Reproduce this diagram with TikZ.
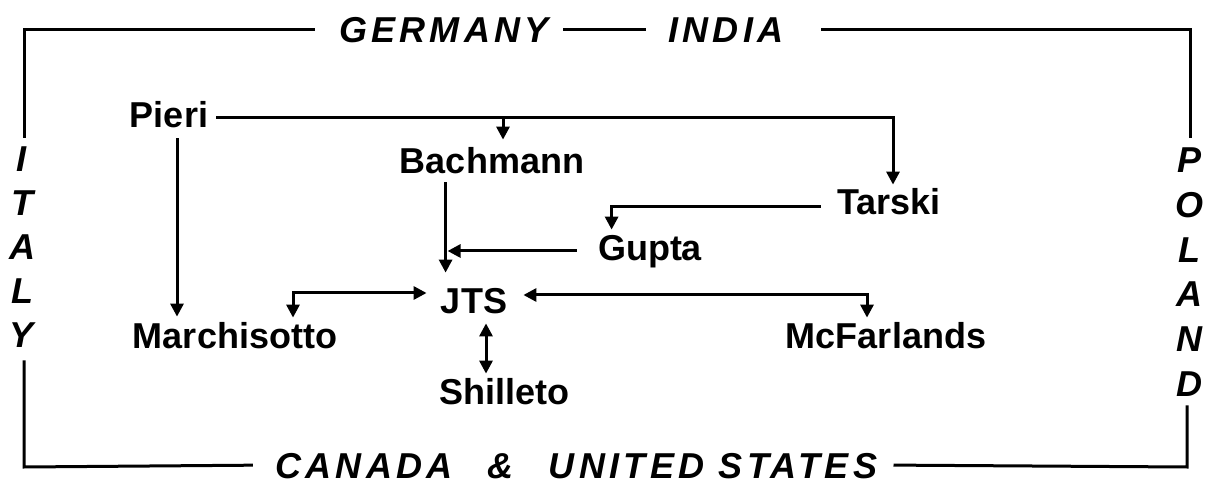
\documentclass[tikz,border=0pt]{standalone}
\usepackage{fontspec}
\setmainfont{Liberation Sans}
\newfontfamily\landfont{Liberation Sans}[LetterSpace=12]
\usetikzlibrary{arrows.meta,calc}
\begin{document}
\begin{tikzpicture}[x=0.5pt,y=-0.5pt,
  >={Triangle[length=6.5pt,width=6.5pt]},
  person/.style={font=\bfseries\fontsize{18}{20}\selectfont, inner sep=0pt, text height=13pt, text depth=0pt},
  land/.style={font=\landfont\bfseries\itshape\fontsize{18}{20}\selectfont, inner sep=0pt, text height=13pt, text depth=0pt},
  wire/.style={line width=1.5pt},
  link/.style={wire, ->},
  both/.style={wire, <->},
]
\useasboundingbox (0,0) rectangle (1205,486);

% people
\node[person] (pieri)  at (169,115) {Pieri};
\node[person] (bach)   at (492,161) {Bachmann};
\node[person] (tarski) at (889,202) {Tarski};
\node[person] (gupta)  at (650,248) {Gupta};
\node[person] (jts)    at (474,301) {JTS};
\node[person] (march)  at (235,336) {Marchisotto};
\node[person] (mcf)    at (886,336) {McFarlands};
\node[person] (shil)   at (504,391) {Shilleto};

% countries around the border
\node[land] (ger) at (444,30) {GERMANY};
\node[land] (ind) at (726,30) {INDIA};
\node[land] (can) at (364,465) {CANADA};
\node[land] (amp) at (500,465) {\&};
\node[land] (usa) at (713,465) {UNITED STATES};
\foreach \ch [count=\i] in {I,T,A,L,Y}
  \node[land] (it\i) at (22,{159+44*(\i-1)}) {\ch};
\foreach \ch [count=\i] in {P,O,L,A,N,D}
  \node[land] (pl\i) at (1189,{160+44.6*(\i-1)}) {\ch};

% border
\coordinate (tl) at (24,30);
\coordinate (tr) at (1190,30);
\coordinate (bl) at (24,467);
\coordinate (br) at (1187,467);
\draw[wire, shorten <=4pt, shorten >=12pt] (tl |- it1.north) -- (tl) -- (ger.west);
\draw[wire, shorten <=7pt, shorten >=11pt] (ger.east) -- (ind.west);
\draw[wire, shorten <=18.5pt, shorten >=4.5pt] (ind.east) -- (tr) -- (tr |- pl1.north);
\draw[wire, shorten <=6pt, shorten >=11pt] (bl |- it5.south) -- (bl) -- (can.west);
\draw[wire, shorten <=8pt, shorten >=4.5pt] (usa.east) -- (br) -- (br |- pl6.south);

% Pieri to Tarski, with a branch to Bachmann
\coordinate (pline) at ($(pieri.east)+(0,3)$);
\coordinate (pt) at ($(tarski.north)+(4,0)$);
\draw[link, shorten <=4pt, shorten >=2pt] (pline) -| (pt);
\coordinate (pb) at ($(bach.north)+(11,0)$);
\draw[link, shorten >=4pt] (pb |- pline) -- (pb);

% Pieri to Marchisotto
\coordinate (pm) at ($(pieri.south)+(8,0)$);
\draw[link, shorten <=5pt, shorten >=3pt] (pm) -- (pm |- march.north);

% Bachmann to JTS
\coordinate (bj) at ($(jts.north west)+(5,0)$);
\draw[link, shorten <=4pt, shorten >=7.5pt] (bj |- bach.south) -- (bj);

% Gupta into the Bachmann line
\coordinate (gw) at ($(gupta.west)+(0,3)$);
\draw[link, shorten <=10.5pt, shorten >=1pt] (gw) -- (bj |- gw);

% Tarski to Gupta
\coordinate (tw) at ($(tarski.west)+(0,5)$);
\coordinate (gn) at ($(gupta.north west)+(14,0)$);
\draw[link, shorten <=8pt, shorten >=2.5pt] (tw) -| (gn);

% JTS with Marchisotto, McFarlands and Shilleto
\coordinate (jw) at ($(jts.west)+(0,-8)$);
\coordinate (mn) at ($(march.north)+(58,0)$);
\draw[both, shorten <=2.5pt, shorten >=7pt] (mn) |- (jw);
\coordinate (je) at ($(jts.east)+(0,-6)$);
\coordinate (fn) at ($(mcf.north)+(-19,0)$);
\draw[both, shorten <=8pt, shorten >=2.5pt] (je) -| (fn);
\coordinate (js) at ($(jts.south)+(12,0)$);
\draw[both, shorten <=4.5pt, shorten >=2pt] (js) -- (js |- shil.north);
\end{tikzpicture}
\end{document}
